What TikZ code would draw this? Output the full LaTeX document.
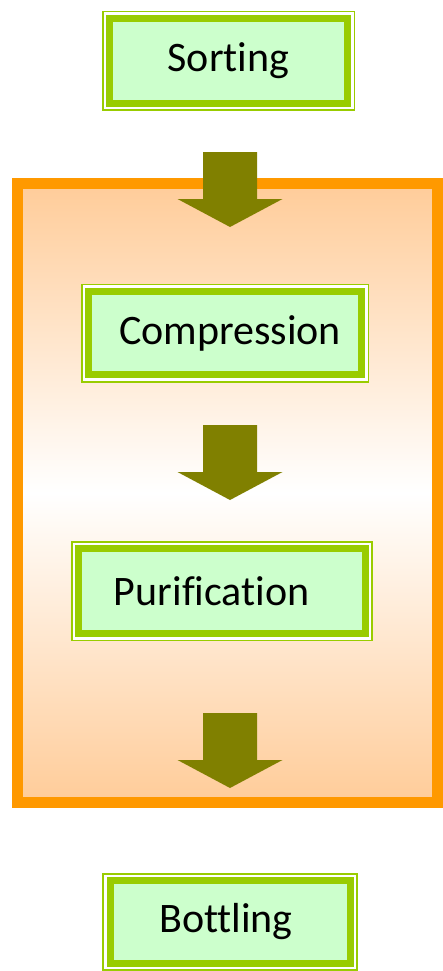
\documentclass[tikz,border=0pt]{standalone}
\usepackage{fontspec}
\setmainfont[RawFeature={-liga;-clig;-calt;-dlig}]{Carlito}
\usepackage{tikz}
\usetikzlibrary{calc}
\definecolor{leaf}{HTML}{99CC00}
\definecolor{mint}{HTML}{CCFFCC}
\definecolor{amber}{HTML}{FF9900}
\definecolor{peach}{HTML}{FFCC99}
\definecolor{oliv}{HTML}{808000}

\begin{document}
\begin{tikzpicture}[x=1pt,y=-1pt,
    stage/.style={draw=leaf,line width=7pt,fill=mint,inner sep=0pt,
      preaction={draw=leaf,line width=15.5pt},
      preaction={draw=white,line width=12pt},
      font=\fontsize{42}{50}\selectfont}]
                 \useasboundingbox (0,0) rectangle (443,971);
                 \shade[top color=peach,bottom color=peach,middle color=white] (17,183) rectangle (437.5,802.5);
                 \draw[amber,line width=11pt] (17,183) rectangle (437.5,802.5);
                 \node[stage,minimum width=238pt,minimum height=85pt](sort)at(228.5,61){Sorting};
                 \node[stage,minimum width=273pt,minimum height=83.5pt](comp)at(225,333){\hspace*{10pt}Compression};
                 \node[stage,minimum width=286.5pt,minimum height=85pt](puri)at(221.75,591){Purification\hspace*{20pt}};
                 \node[stage,minimum width=240pt,minimum height=82.5pt](bott)at(230,921.75){Bottling\hspace*{8pt}};
                 \foreach \y in {152,425,713}
                   \fill[oliv,shift={(230,\y)}] (-27,0) -- (27,0) -- (27,47) -- (52.5,47) -- (0,75) -- (-52.5,47) -- (-27,47) -- cycle;
               \end{tikzpicture}
\end{document}
